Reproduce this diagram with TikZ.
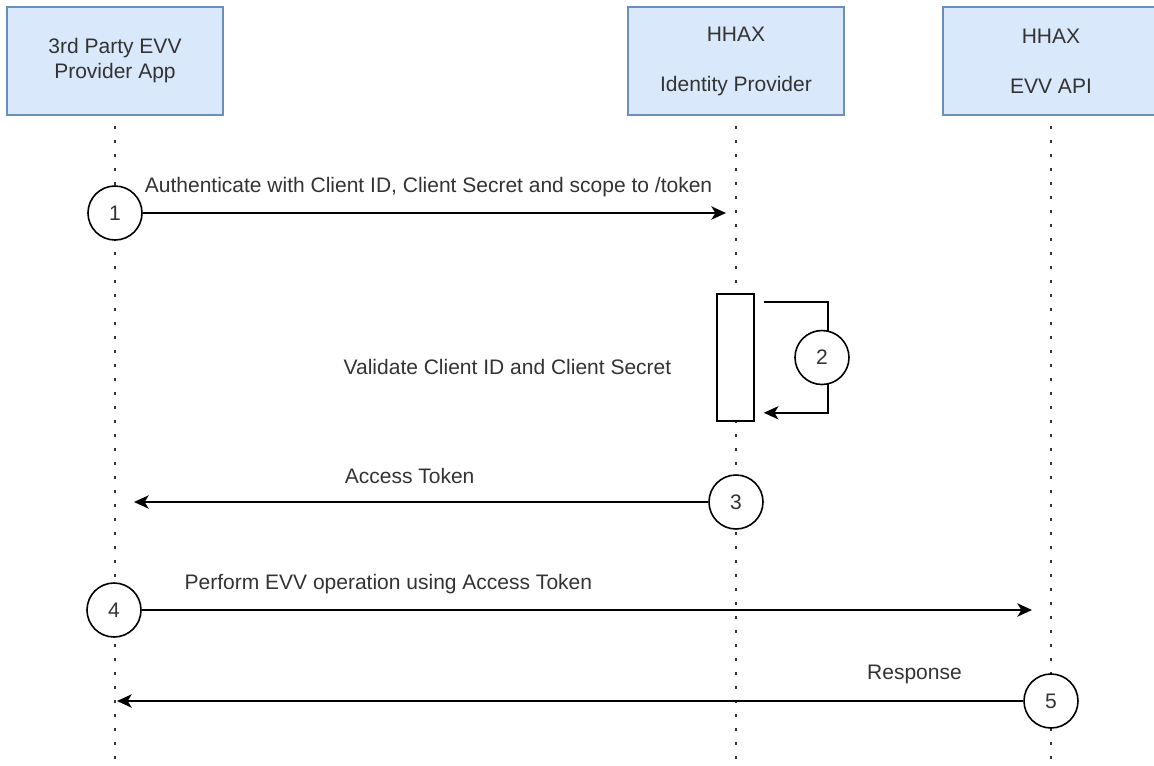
\documentclass[tikz,border=0pt]{standalone}
\usepackage{fontspec}
\setmainfont{Liberation Sans}
\usetikzlibrary{arrows.meta, positioning}
\definecolor{actorfill}{HTML}{DAE8FC}
\definecolor{actorline}{HTML}{6C8EBF}
\definecolor{textgray}{HTML}{333333}
\pgfdeclarelayer{bg1}
\pgfdeclarelayer{bg2}
\pgfsetlayers{bg2,bg1,main}
\tikzset{
	every node/.style = {font = \fontsize{15.75}{18.75}\selectfont, text = textgray},
	actor/.style = {rectangle, minimum width = 162pt, minimum height = 81pt, align = center, draw = actorline, fill = actorfill, line width = 1.2pt},
	stepnum/.style = {circle, minimum size = 40.5pt, inner sep = 0pt, draw = black, fill = white, line width = 1.2pt},
	activation/.style = {rectangle, minimum width = 27.75pt, minimum height = 95.25pt, inner sep = 0pt, draw = black, fill = white, line width = 1.2pt},
	lifeline/.style = {draw = black!80, line width = 1.8pt, dash pattern = on 1.8pt off 8.7pt, dash phase = 2.5pt},
	arrow/.style = {-{Stealth[length = 11pt, width = 10pt, inset = 3pt]}, draw = black, line width = 1.2pt},
	lbl/.style = {inner sep = 0pt}
}

\begin{document}
\begin{tikzpicture}[x = 0.75pt, y = -0.75pt]
	\clip (0,0) rectangle (1154,765);

		% actor nodes
		\node (app) [actor] at (115,61) {3rd Party EVV\\Provider App};
		\node (idp) [actor] at (736,61) {HHAX\\[18.75pt]Identity Provider};
		\node (api) [actor] at (1051,61) {HHAX\\[18.75pt]EVV API};
		\coordinate (bottom) at (0,770);

		% step nodes
		\node (s1) [stepnum] at (115,213) {1};
		\node (act) [activation] at (735.5,357.5) {};
		\node (s2) [stepnum] at (822,357.5) {2};
		\node (validate) [lbl] at (507.5,367) {Validate Client ID and Client Secret};
		\node (s3) [stepnum] at (736,502) {3};
		\node (s4) [stepnum] at (114,610) {4};
		\node (s5) [stepnum] at (1051,701) {5};

		% arrow ends on the lifelines
		\coordinate (idp1) at (726,213);
		\coordinate (app3) at (134,502);
		\coordinate (api4) at (1032,610);
		\coordinate (app5) at (117,701);

		%%% lifelines %%%
		\begin{pgfonlayer}{bg2}
		\draw [lifeline] (app.south) -- (app.south |- bottom);
		\draw [lifeline] (idp.south) -- (idp.south |- bottom);
		\draw [lifeline] (api.south) -- (api.south |- bottom);
		\end{pgfonlayer}

		%%% arrows %%%
		\begin{pgfonlayer}{bg1}
		\draw [arrow] (s1) -- (idp1)
			node [lbl, pos = 0.49, yshift = 19.5pt] {Authenticate with Client ID, Client Secret and scope to /token};
		\draw [arrow] ([shift = {(9,9)}]act.north east) -- ++(64,0) |- ([shift = {(9,-9)}]act.south east);
		\draw [arrow] (s3) -- (app3)
			node [lbl, pos = 0.52, yshift = 19.5pt] {Access Token};
		\draw [arrow] (s4) -- (api4)
			node [lbl, pos = 0.277, yshift = 19.5pt] {Perform EVV operation using Access Token};
		\draw [arrow] (s5) -- (app5)
			node [lbl, pos = 0.12, yshift = 20.25pt] {Response};
		\end{pgfonlayer}
\end{tikzpicture}
\end{document}
